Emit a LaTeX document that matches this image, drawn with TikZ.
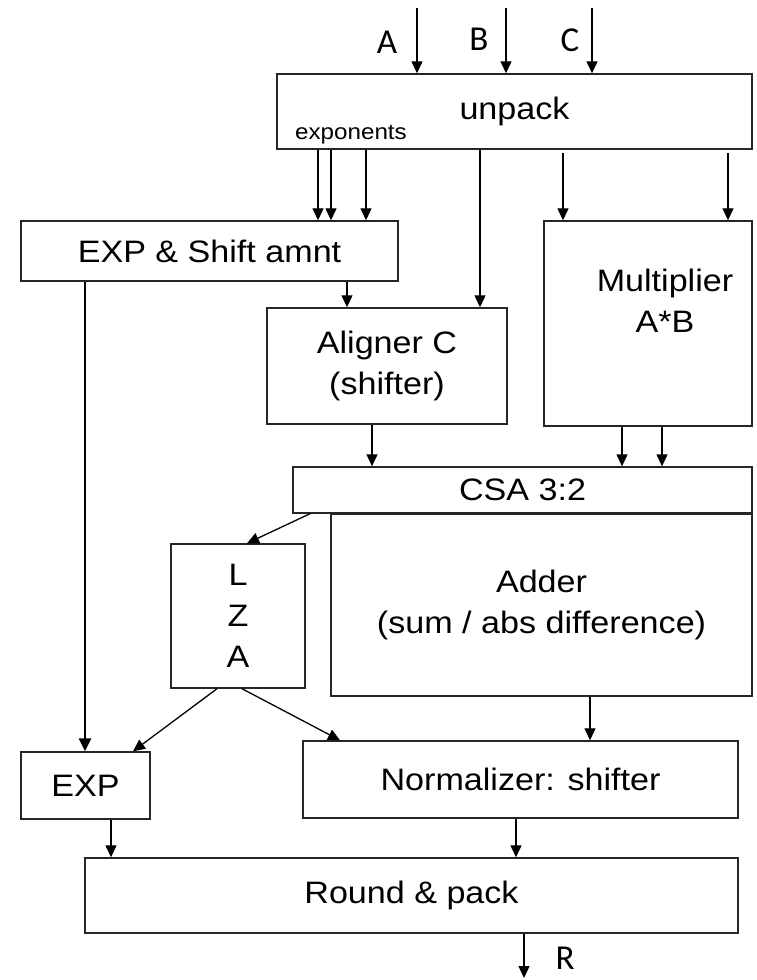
\documentclass[tikz,border=0pt]{standalone}
\usepackage{fontspec}
\setmainfont{Liberation Sans}[FakeStretch=1.1]
\newfontfamily\calib{Carlito}
\usetikzlibrary{arrows.meta}
\begin{document}
\begin{tikzpicture}[x=1pt,y=-1pt,
  box/.style={draw=black!85,line width=1.4pt,inner sep=0pt,align=center,
    font=\fontsize{31}{41}\selectfont},
  txt/.style={inner sep=0pt,align=center,font=\fontsize{31}{41}\selectfont},
  arr/.style={line width=1.3pt,-{Triangle[width=11pt,length=12pt]}},
  thickarr/.style={line width=2.4pt,-{Triangle[width=12pt,length=13pt]}},
  lbl/.style={inner sep=0pt,anchor=base,font=\calib\fontsize{35}{40}\selectfont}]
\useasboundingbox[fill=white] (0,0) rectangle (757,980);

% boxes
\node[box,minimum width=475pt,minimum height=75pt] (unpack) at (514.5,111.5) {unpack};
\node[inner sep=0pt,font=\fontsize{22}{26}\selectfont] (expo) at (351,135) {exponents};
\node[box,minimum width=377pt,minimum height=60pt] (exps) at (209.5,251) {EXP \& Shift amnt};
\node[box,minimum width=240pt,minimum height=116pt] (align) at (387,366) {Aligner C\\(shifter)};
\node[box,minimum width=208pt,minimum height=205pt] (mult) at (648,323.5) {};
\node[txt] (multt) at (665,301) {Multiplier\\A*B};
\node[box,minimum width=459pt,minimum height=46pt] (csa) at (522.5,490) {CSA 3:2};
\node[box,minimum width=421pt,minimum height=182pt] (adder) at (541.5,605) {Adder\\(sum / abs difference)};
\node[box,minimum width=134pt,minimum height=144pt] (lza) at (238,616) {L\\Z\\A};
\node[box,minimum width=129pt,minimum height=67pt] (exp) at (85.5,785.5) {EXP};
\node[box,minimum width=435pt,minimum height=77pt] (norm) at (520.5,779.5) {Normalizer: shifter};
\node[box,minimum width=653pt,minimum height=75pt] (round) at (411.5,895.5) {Round \& pack};

% input labels
\node[lbl] (lA) at (387,53) {A};
\node[lbl] (lB) at (479,50) {B};
\node[lbl] (lC) at (570,51) {C};
\node[lbl] (lR) at (565,969) {R};

% inputs
\coordinate (tA) at (417,8);
\coordinate (tB) at (506,8);
\coordinate (tC) at (592,8);
\draw[arr] (tA) -- (tA |- unpack.north);
\draw[arr] (tB) -- (tB |- unpack.north);
\draw[arr] (tC) -- (tC |- unpack.north);

% exponents
\coordinate (x1) at (318,0);
\coordinate (x2) at (331,0);
\coordinate (x3) at (366,0);
\draw[arr] (x1 |- unpack.south) -- (x1 |- exps.north);
\draw[arr] (x2 |- unpack.south) -- (x2 |- exps.north);
\draw[arr] (x3 |- unpack.south) -- (x3 |- exps.north);

% unpack -> aligner, multiplier
\coordinate (x4) at (480,0);
\draw[arr] (x4 |- unpack.south) -- (x4 |- align.north);
\coordinate (m1) at (563,153);
\coordinate (m2) at (728,153);
\draw[arr] (m1) -- (m1 |- mult.north);
\draw[arr] (m2) -- (m2 |- mult.north);

% exps -> aligner
\coordinate (x5) at (347,0);
\draw[arr] (x5 |- exps.south) -- (x5 |- align.north);

% aligner, multiplier -> csa
\coordinate (x6) at (372,0);
\draw[arr] (x6 |- align.south) -- (x6 |- csa.north);
\coordinate (x7) at (622,0);
\coordinate (x8) at (662,0);
\draw[arr] (x7 |- mult.south) -- (x7 |- csa.north);
\draw[arr] (x8 |- mult.south) -- (x8 |- csa.north);

% csa -> lza
\coordinate (c1) at (310,0);
\coordinate (c2) at (247,0);
\draw[arr] (c1 |- csa.south) -- (c2 |- lza.north);

% exps -> exp (long)
\coordinate (x9) at (85,0);
\draw[thickarr] (x9 |- exps.south) -- (x9 |- exp.north);

% lza -> exp, norm
\coordinate (l1) at (217,0);
\coordinate (l2) at (133,0);
\coordinate (l3) at (242,0);
\coordinate (l4) at (340,0);
\draw[arr] (l1 |- lza.south) -- (l2 |- exp.north);
\draw[arr] (l3 |- lza.south) -- (l4 |- norm.north);

% adder -> norm
\coordinate (x10) at (590,0);
\draw[arr] (x10 |- adder.south) -- (x10 |- norm.north);

% exp, norm -> round
\coordinate (x11) at (111,0);
\coordinate (x12) at (516,0);
\draw[arr] (x11 |- exp.south) -- (x11 |- round.north);
\draw[arr] (x12 |- norm.south) -- (x12 |- round.north);

% output
\coordinate (tR) at (524,978);
\draw[arr] (tR |- round.south) -- (tR);
\end{tikzpicture}
\end{document}
